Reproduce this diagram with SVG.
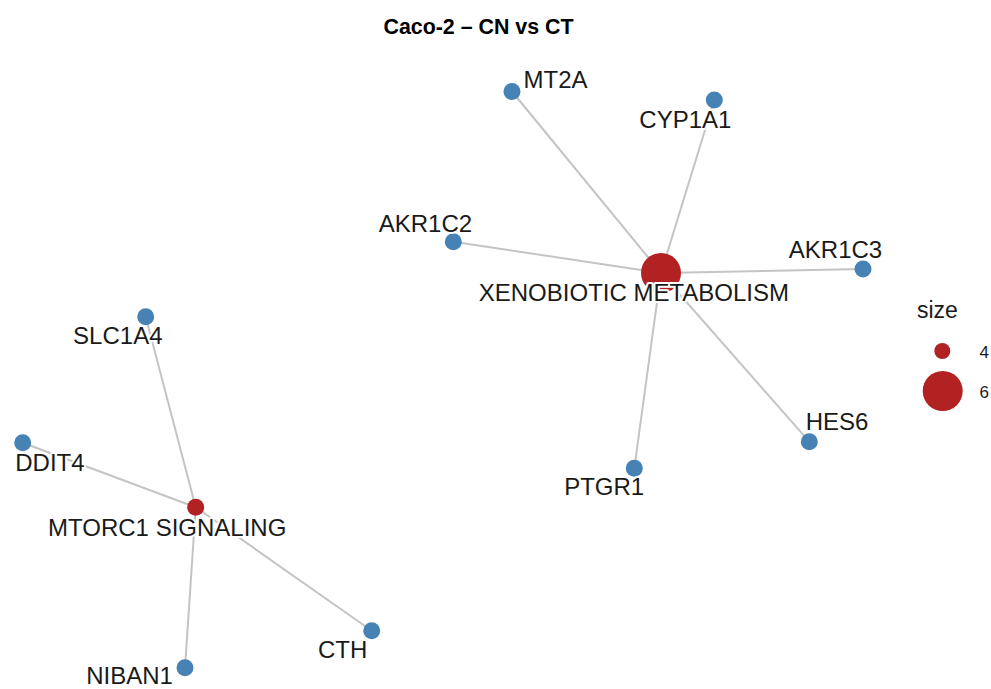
<svg xmlns="http://www.w3.org/2000/svg" width="991" height="689" viewBox="0 0 991 689">
<style>
.edge{stroke:#c4c4c4;stroke-width:2;fill:none}
.gene{fill:#4682b4}
.term{fill:#b22222}
.lbl{font-family:"Liberation Sans",Arial,sans-serif;font-size:24px;fill:#1a1a1a;text-anchor:middle;stroke:#ffffff;stroke-width:4;stroke-linejoin:round;paint-order:stroke}
.title{font-family:"Liberation Sans",Arial,sans-serif;font-size:22px;font-weight:bold;fill:#000}
.leg{font-family:"Liberation Sans",Arial,sans-serif;fill:#1a1a1a}
</style>
<rect width="991" height="689" fill="#ffffff"/>
<text class="title" x="383.5" y="33.5" textLength="190" lengthAdjust="spacingAndGlyphs">Caco-2 – CN vs CT</text>
<g id="edges">
<line class="edge" x1="661" y1="273" x2="512" y2="91.5"/>
<line class="edge" x1="661" y1="273" x2="714.3" y2="100"/>
<line class="edge" x1="661" y1="273" x2="453.3" y2="241.7"/>
<line class="edge" x1="661" y1="273" x2="863" y2="269"/>
<line class="edge" x1="661" y1="273" x2="809.3" y2="441.7"/>
<line class="edge" x1="661" y1="273" x2="634.3" y2="468.3"/>
<line class="edge" x1="195.7" y1="507.3" x2="145.7" y2="316.7"/>
<line class="edge" x1="195.7" y1="507.3" x2="22.7" y2="442.7"/>
<line class="edge" x1="195.7" y1="507.3" x2="371.7" y2="630.7"/>
<line class="edge" x1="195.7" y1="507.3" x2="185" y2="667.7"/>
</g>
<g id="n-xeno"><circle class="term" cx="661" cy="273" r="20"/></g>
<g id="n-mt2a"><circle class="gene" cx="512" cy="91.5" r="8.5"/></g>
<g id="n-cyp1a1"><circle class="gene" cx="714.3" cy="100" r="8.5"/></g>
<g id="n-akr1c2"><circle class="gene" cx="453.3" cy="241.7" r="8.5"/></g>
<g id="n-akr1c3"><circle class="gene" cx="863" cy="269" r="8.5"/></g>
<g id="n-hes6"><circle class="gene" cx="809.3" cy="441.7" r="8.5"/></g>
<g id="n-ptgr1"><circle class="gene" cx="634.3" cy="468.3" r="8.5"/></g>
<g id="n-mtorc1"><circle class="term" cx="195.7" cy="507.3" r="8.5"/></g>
<g id="n-slc1a4"><circle class="gene" cx="145.7" cy="316.7" r="8.5"/></g>
<g id="n-ddit4"><circle class="gene" cx="22.7" cy="442.7" r="8.5"/></g>
<g id="n-cth"><circle class="gene" cx="371.7" cy="630.7" r="8.5"/></g>
<g id="n-niban1"><circle class="gene" cx="185" cy="667.7" r="8.5"/></g>
<g id="labels">
<text class="lbl" x="555.5" y="88.3">MT2A</text>
<text class="lbl" x="685.4" y="128.3">CYP1A1</text>
<text class="lbl" x="425.4" y="231.7">AKR1C2</text>
<text class="lbl" x="835.5" y="258">AKR1C3</text>
<text class="lbl" x="633.9" y="300.7">XENOBIOTIC METABOLISM</text>
<text class="lbl" x="837" y="430">HES6</text>
<text class="lbl" x="604.2" y="495">PTGR1</text>
<text class="lbl" x="117.8" y="344.3">SLC1A4</text>
<text class="lbl" x="49.9" y="470.7">DDIT4</text>
<text class="lbl" x="167.2" y="535.7">MTORC1 SIGNALING</text>
<text class="lbl" x="342.7" y="658.3">CTH</text>
<text class="lbl" x="129.5" y="683.5">NIBAN1</text>
</g>
<g id="legend">
<text class="leg" x="917" y="318" font-size="23">size</text>
<circle class="term" cx="942.3" cy="351" r="8"/>
<circle class="term" cx="942.7" cy="391" r="20"/>
<text class="leg" x="979.5" y="358" font-size="17">4</text>
<text class="leg" x="979.5" y="398" font-size="17">6</text>
</g>
</svg>
